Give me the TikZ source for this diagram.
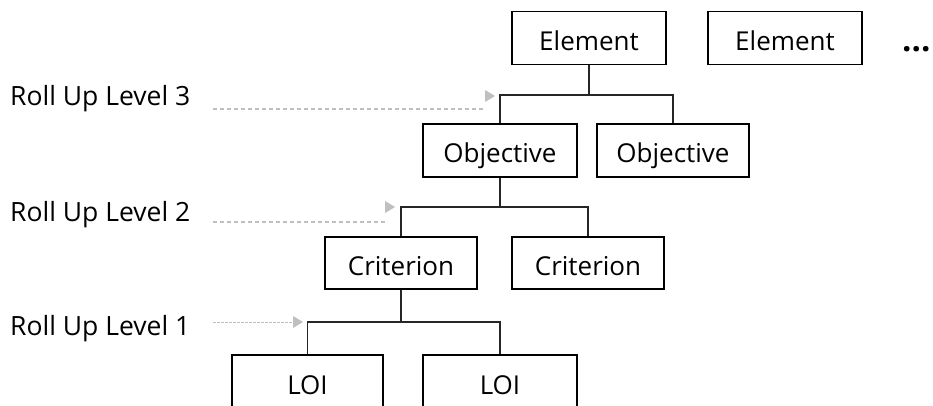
\documentclass[tikz,border=0pt]{standalone}
\usepackage{fontspec}
\setmainfont{Open Sans}
\begin{document}
\begin{tikzpicture}[x=1pt,y=-1pt,
  box/.style={draw=black, line width=1.1pt, minimum height=53pt, inner sep=0pt, text height=25pt, text depth=0pt, font=\fontsize{26}{30}\selectfont, text=black},
  lbl/.style={anchor=base west, inner sep=0pt, font=\fontsize{26.5}{30}\selectfont, text=black},
  conn/.style={draw=black!85, line width=1.4pt},
  rollup/.style={draw=black!25, line width=1.1pt, dash pattern=on 4pt off 3pt},
  rollupfine/.style={draw=black!25, line width=1pt, dash pattern=on 2.5pt off 1.5pt},
  tip/.style={fill=black!25, draw=none}
]
\useasboundingbox (0,0) rectangle (933,406);
\clip (0,0) rectangle (933,406);
\fill[white] (0,0) rectangle (933,406);

% boxes
\node[box, minimum width=154pt] (el1) at (589,38) {Element};
\node[box, minimum width=154pt] (el2) at (785,38) {Element};
\node[anchor=base west, inner sep=0pt, font=\fontsize{33}{36}\selectfont\bfseries] (dots) at (902,52) {...};
\node[box, minimum width=154pt] (obj1) at (500,150.5) {Objective};
\node[box, minimum width=152pt] (obj2) at (673,150.5) {Objective};
\node[box, minimum width=152pt, minimum height=52pt] (cr1) at (401,263) {Criterion};
\node[box, minimum width=152pt, minimum height=52pt] (cr2) at (588,263) {Criterion};
\node[box, minimum width=151pt, minimum height=54pt] (loi1) at (307.5,382) {LOI};
\node[box, minimum width=154pt, minimum height=54pt] (loi2) at (500,382) {LOI};

% junctions
\coordinate (b3) at (589,95);
\coordinate (b2) at (500,207);
\coordinate (b1) at (401,322);

\draw[conn] (el1.south) -- (b3);
\draw[conn] (obj1.north) |- (obj2.north |- b3) -- (obj2.north);
\draw[conn] (obj1.south) -- (b2);
\draw[conn] (cr1.north) |- (cr2.north |- b2) -- (cr2.north);
\draw[conn] (cr1.south) -- (b1);
\draw[conn] (loi1.north) |- (loi2.north |- b1) -- (loi2.north);

% roll up labels
\node[lbl] (l3) at (10,106) {Roll Up Level 3};
\node[lbl] (l2) at (10,221) {Roll Up Level 2};
\node[lbl] (l1) at (10,335) {Roll Up Level 1};

\coordinate (s3) at (213,109);
\coordinate (e3) at (485,109);
\coordinate (s2) at (213,222);
\coordinate (e2) at (385,222);
\coordinate (s1) at (213,322);
\coordinate (e1) at (293,322);

\draw[rollup] (s3) -- (e3);
\fill[tip] (485,90) -- (495,96) -- (485,102) -- cycle;
\draw[rollup] (s2) -- (e2);
\fill[tip] (385,201) -- (395,207) -- (385,213) -- cycle;
\draw[rollupfine] (s1) -- (e1);
\fill[tip] (293,316) -- (303,322) -- (293,328) -- cycle;
\end{tikzpicture}
\end{document}
